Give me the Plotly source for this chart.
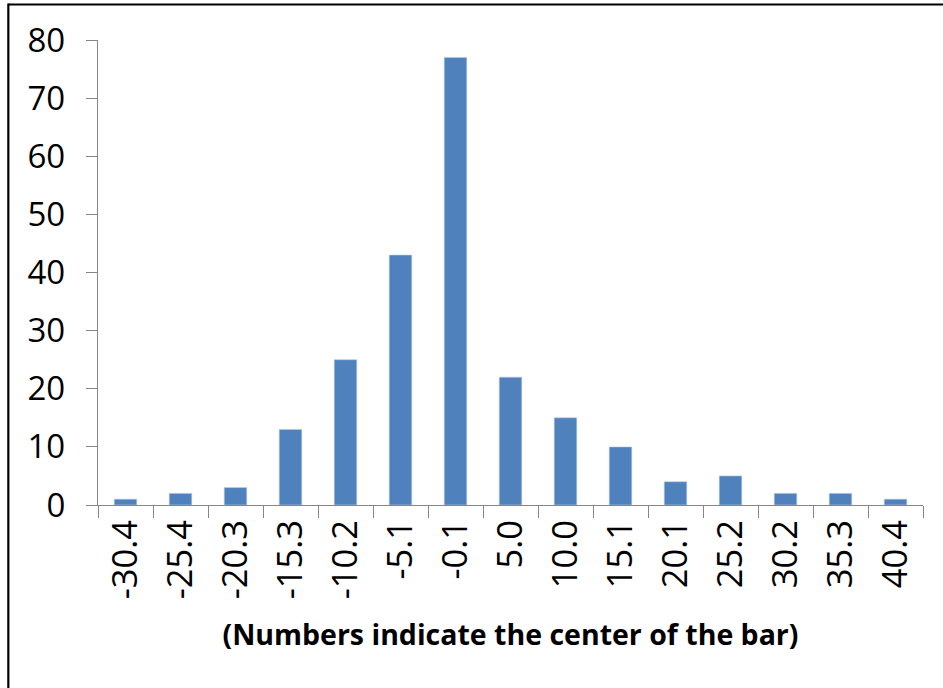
import plotly.graph_objects as go

categories = ["-30.4", "-25.4", "-20.3", "-15.3", "-10.2", "-5.1", "-0.1", "5.0",
              "10.0", "15.1", "20.1", "25.2", "30.2", "35.3", "40.4"]
counts = [1, 2, 3, 13, 25, 43, 77, 22, 15, 10, 4, 5, 2, 2, 1]
y_ticks = [0, 10, 20, 30, 40, 50, 60, 70, 80]
x_title = "(Numbers indicate the center of the bar)"

W, H = 943, 688
L, R, T, B = 97.7, 20, 40, 183
pw, ph = W - L - R, H - T - B

def px_x(p):
    return (p - L) / pw

def px_y(p):
    return (H - B - p) / ph

fig = go.Figure(go.Bar(
    x=categories, y=counts,
    marker=dict(color="#4F81BD", line=dict(color="#B9CDE5", width=0.6)),
))

border = dict(color="black", width=2.2)

fig.update_layout(
    width=W, height=H,
    margin=dict(l=L, r=R, t=T, b=B, autoexpand=False),
    paper_bgcolor="white", plot_bgcolor="white",
    bargap=0.59,
    showlegend=False,
    font=dict(family="Open Sans", color="black", size=33),
    xaxis=dict(
        type="category", tickson="boundaries", ticks="outside", ticklen=12,
        tickcolor="#868686", showline=True, linecolor="#868686", linewidth=1.3,
        tickangle=-90, showgrid=False, tickfont=dict(size=34.5), automargin=False,
        title=dict(text="<b>" + x_title + "</b>", font=dict(size=28.5), standoff=26),
    ),
    yaxis=dict(
        range=[0, 80], tickvals=y_ticks, ticks="outside", ticklen=11,
        tickcolor="#868686", showline=True, linecolor="#868686", linewidth=1.3,
        showgrid=False, zeroline=False, tickfont=dict(size=33), ticklabelstandoff=14,
        automargin=False,
    ),
    shapes=[
        dict(type="line", xref="paper", yref="paper",
             x0=px_x(8), x1=px_x(950), y0=px_y(4.5), y1=px_y(4.5), line=border),
        dict(type="line", xref="paper", yref="paper",
             x0=px_x(8), x1=px_x(8), y0=px_y(3.4), y1=px_y(700), line=border),
    ],
)

fig.write_html("out.html", config={"displayModeBar": False},
               post_script="document.body.style.margin='0';")
